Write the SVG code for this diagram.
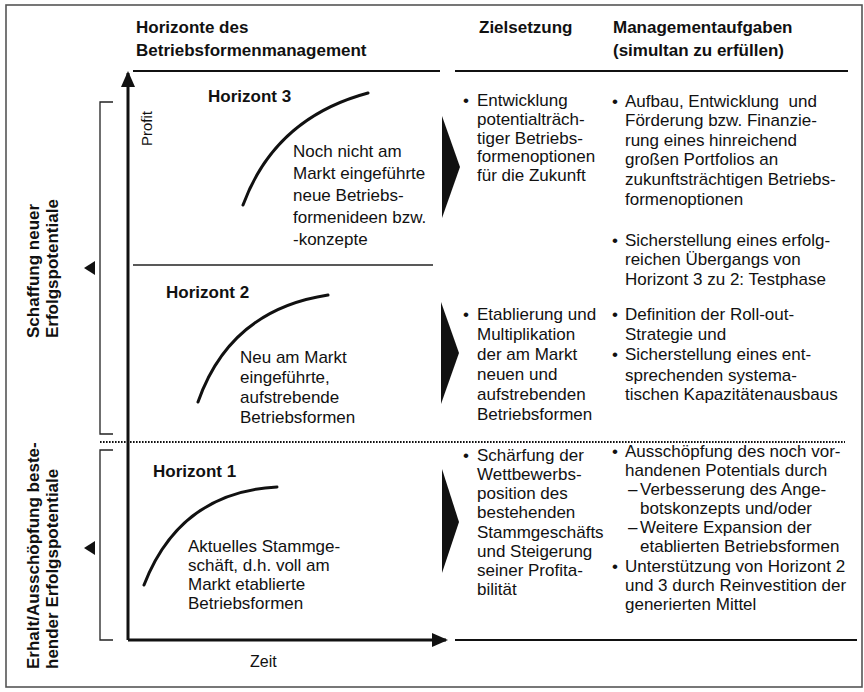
<svg xmlns="http://www.w3.org/2000/svg" width="864" height="692" viewBox="0 0 864 692">
<defs>
<style>
text{font-family:"Liberation Sans",Arial,sans-serif;fill:#111;font-size:17px}
.b{font-weight:bold}
.rot{font-weight:bold;font-size:17px}
.ax{font-size:15px}
.frame{fill:none;stroke:#555;stroke-width:1.6}
.rule{stroke:#111;stroke-width:2;fill:none}
.thin{stroke:#222;stroke-width:1.3;fill:none}
.axis{stroke:#111;stroke-width:3;fill:none}
.curve{stroke:#111;stroke-width:3;fill:none;stroke-linecap:round}
.dots{stroke:#111;stroke-width:2;stroke-dasharray:1.6 1.4;fill:none}
.chev{fill:#111}
</style>
<marker id="ah" markerWidth="16" markerHeight="14" refX="14" refY="7" orient="auto" markerUnits="userSpaceOnUse" viewBox="0 0 16 14">
<path d="M0,0 L16,7 L0,14 Z" fill="#111"/>
</marker>
</defs>
<rect width="864" height="692" fill="#fff"/>
<rect class="frame" x="6" y="5" width="856" height="682"/>

<g id="header">
<text class="b" x="136" y="33">Horizonte des</text>
<text class="b" x="136" y="56">Betriebsformenmanagement</text>
<text class="b" x="479" y="33">Zielsetzung</text>
<text class="b" x="613" y="33">Managementaufgaben</text>
<text class="b" x="613" y="56">(simultan zu erfüllen)</text>
</g>

<g id="connectors">
<line class="rule" x1="133" y1="71" x2="440" y2="71"/>
<line class="rule" x1="455" y1="71" x2="848" y2="71"/>
<line class="thin" x1="133" y1="265" x2="433" y2="265"/>
<line class="dots" x1="100" y1="442" x2="845" y2="442"/>
<line class="rule" x1="455" y1="640" x2="857" y2="640"/>
<line class="axis" x1="128" y1="640" x2="128" y2="73" marker-end="url(#ah)"/>
<line class="axis" x1="128" y1="640" x2="446" y2="640" marker-end="url(#ah)"/>
<polyline class="thin" points="113,102 100,102 100,434 113,434"/>
<polyline class="thin" points="113,450 100,450 100,640 113,640"/>
<polygon class="chev" points="84,268 95,261 95,275"/>
<polygon class="chev" points="84,548 95,541 95,555"/>
<polygon class="chev" points="442,116 460,167 442,218"/>
<polygon class="chev" points="441,302 459,353 441,404"/>
<polygon class="chev" points="442,469 459,522 442,573"/>
</g>

<g id="side-labels">
<text class="rot" transform="translate(39,338) rotate(-90)">Schaffung neuer</text>
<text class="rot" transform="translate(58,338) rotate(-90)">Erfolgspotentiale</text>
<text class="rot" transform="translate(39,669) rotate(-90)">Erhalt/Ausschöpfung beste-</text>
<text class="rot" transform="translate(58,669) rotate(-90)">hender Erfolgspotentiale</text>
</g>

<g id="axes-labels">
<text class="ax" transform="translate(152,146) rotate(-90)">Profit</text>
<text x="250" y="667" style="font-size:16px">Zeit</text>
</g>

<g id="horizont3">
<text class="b" x="208" y="102">Horizont 3</text>
<path class="curve" d="M243,205 Q275,118 368,93"/>
<text x="293" y="157">Noch nicht am</text>
<text x="293" y="179">Markt eingeführte</text>
<text x="293" y="201">neue Betriebs-</text>
<text x="293" y="223">formenideen bzw.</text>
<text x="293" y="245">-konzepte</text>
</g>

<g id="horizont2">
<text class="b" x="166" y="298">Horizont 2</text>
<path class="curve" d="M198,402 Q230,310 328,295"/>
<text x="240" y="363">Neu am Markt</text>
<text x="240" y="383">eingeführte,</text>
<text x="240" y="403">aufstrebende</text>
<text x="240" y="423">Betriebsformen</text>
</g>

<g id="horizont1">
<text class="b" x="153" y="477">Horizont 1</text>
<path class="curve" d="M144,585 Q180,492 277,487"/>
<text x="188" y="552">Aktuelles Stammge-</text>
<text x="188" y="571">schäft, d.h. voll am</text>
<text x="188" y="590">Markt etablierte</text>
<text x="188" y="609">Betriebsformen</text>
</g>

<g id="ziel3">
<text x="463" y="106">•</text>
<text x="477" y="106">Entwicklung</text>
<text x="477" y="125">potentialträch-</text>
<text x="477" y="143.5">tiger Betriebs-</text>
<text x="477" y="162">formenoptionen</text>
<text x="477" y="180.5">für die Zukunft</text>
</g>

<g id="ziel2">
<text x="463" y="320">•</text>
<text x="477" y="320">Etablierung und</text>
<text x="477" y="340">Multiplikation</text>
<text x="477" y="360">der am Markt</text>
<text x="477" y="380">neuen und</text>
<text x="477" y="400">aufstrebenden</text>
<text x="477" y="420">Betriebsformen</text>
</g>

<g id="ziel1">
<text x="463" y="461">•</text>
<text x="477" y="461">Schärfung der</text>
<text x="477" y="480">Wettbewerbs-</text>
<text x="477" y="499">position des</text>
<text x="477" y="518">bestehenden</text>
<text x="477" y="537.5">Stammgeschäfts</text>
<text x="477" y="556.5">und Steigerung</text>
<text x="477" y="576">seiner Profita-</text>
<text x="477" y="595">bilität</text>
</g>

<g id="management3">
<text x="612" y="106.5">•</text>
<text x="625" y="106.5" xml:space="preserve">Aufbau, Entwicklung  und</text>
<text x="625" y="126">Förderung bzw. Finanzie-</text>
<text x="625" y="145.5">rung eines hinreichend</text>
<text x="625" y="165">großen Portfolios an</text>
<text x="625" y="185">zukunftsträchtigen Betriebs-</text>
<text x="625" y="205">formenoptionen</text>
<text x="612" y="245.5">•</text>
<text x="625" y="245.5">Sicherstellung eines erfolg-</text>
<text x="625" y="265">reichen Übergangs von</text>
<text x="625" y="284.5">Horizont 3 zu 2: Testphase</text>
</g>

<g id="management2">
<text x="612" y="320">•</text>
<text x="625" y="320">Definition der Roll-out-</text>
<text x="625" y="340">Strategie und</text>
<text x="612" y="360">•</text>
<text x="625" y="360">Sicherstellung eines ent-</text>
<text x="625" y="380.5">sprechenden systema-</text>
<text x="625" y="400">tischen Kapazitätenausbaus</text>
</g>

<g id="management1">
<text x="612" y="457">•</text>
<text x="625" y="457">Ausschöpfung des noch vor-</text>
<text x="625" y="476">handenen Potentials durch</text>
<text x="628" y="495">–</text>
<text x="640" y="495">Verbesserung des Ange-</text>
<text x="640" y="514">botskonzepts und/oder</text>
<text x="628" y="533">–</text>
<text x="640" y="533">Weitere Expansion der</text>
<text x="640" y="552">etablierten Betriebsformen</text>
<text x="612" y="571.5">•</text>
<text x="625" y="571.5">Unterstützung von Horizont 2</text>
<text x="625" y="590.5">und 3 durch Reinvestition der</text>
<text x="625" y="610">generierten Mittel</text>
</g>
</svg>
